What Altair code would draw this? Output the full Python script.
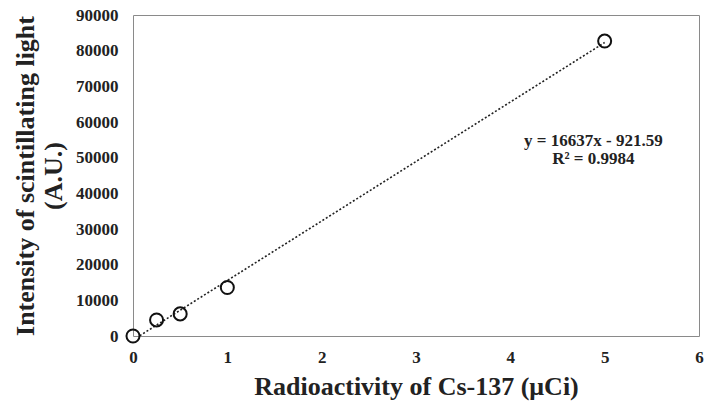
import altair as alt
import pandas as pd

activity = [0, 0.25, 0.5, 1, 5]
intensity = [0, 4500, 6200, 13600, 82700]
eq_lines = ["y = 16637x - 921.59", "R² = 0.9984"]
eq_x = [4.88]
eq_y = [54600]

df = pd.DataFrame({"x": activity, "y": intensity})
eq = pd.DataFrame({"x": eq_x, "y": eq_y, "t": ["\n".join(eq_lines)]})

FONT = "Liberation Serif"

xscale = alt.Scale(domain=[0, 6], nice=False)
yscale = alt.Scale(domain=[0, 90000], nice=False)

xaxis = alt.Axis(values=[0, 1, 2, 3, 4, 5, 6], format="d", grid=False, ticks=False, domain=False,
                 labelFlush=False, labelOverlap=False,
                 labelFont=FONT, labelFontSize=17, labelFontWeight="bold", labelColor="#222",
                 labelPadding=13, title="Radioactivity of Cs-137 (μCi)",
                 titleFont=FONT, titleFontSize=26, titleFontWeight="bold", titleColor="#222",
                 titlePadding=8)
yaxis = alt.Axis(values=list(range(0, 90001, 10000)), format="d", grid=False, ticks=False, domain=False,
                 labelFlush=False, labelOverlap=False,
                 labelFont=FONT, labelFontSize=17, labelFontWeight="bold", labelColor="#222",
                 labelPadding=15,
                 title=["Intensity of scintillating light", "(A.U.)"],
                 titleFont=FONT, titleFontSize=26, titleFontWeight="bold", titleColor="#222",
                 titlePadding=9, titleLineHeight=28)

X = alt.X("x:Q", scale=xscale, axis=xaxis)
Y = alt.Y("y:Q", scale=yscale, axis=yaxis)

base = alt.Chart(df)

trend = base.transform_regression("x", "y", extent=[0, 5]).mark_line(
    color="#222", strokeDash=[2, 2], strokeWidth=1.6, clip=True
).encode(x=X, y=Y)

pts = base.mark_point(shape="circle", size=170, filled=False, color="#111", strokeWidth=2, opacity=1).encode(
    x=X, y=Y)

txt = alt.Chart(eq).mark_text(font=FONT, fontSize=17, fontWeight="bold", color="#222", align="center",
                              baseline="middle", lineBreak="\n", lineHeight=18).encode(
    x=X, y=Y, text="t:N")

chart = (trend + pts + txt).properties(
    width=566, height=321,
    autosize=alt.AutoSizeParams(type="none"),
    padding={"left": 133, "top": 15, "right": 7, "bottom": 69},
    background="white",
).configure_view(stroke="#8a8a8a", strokeWidth=1)

chart.save("out.html", embed_options={"renderer": "svg", "actions": False})
